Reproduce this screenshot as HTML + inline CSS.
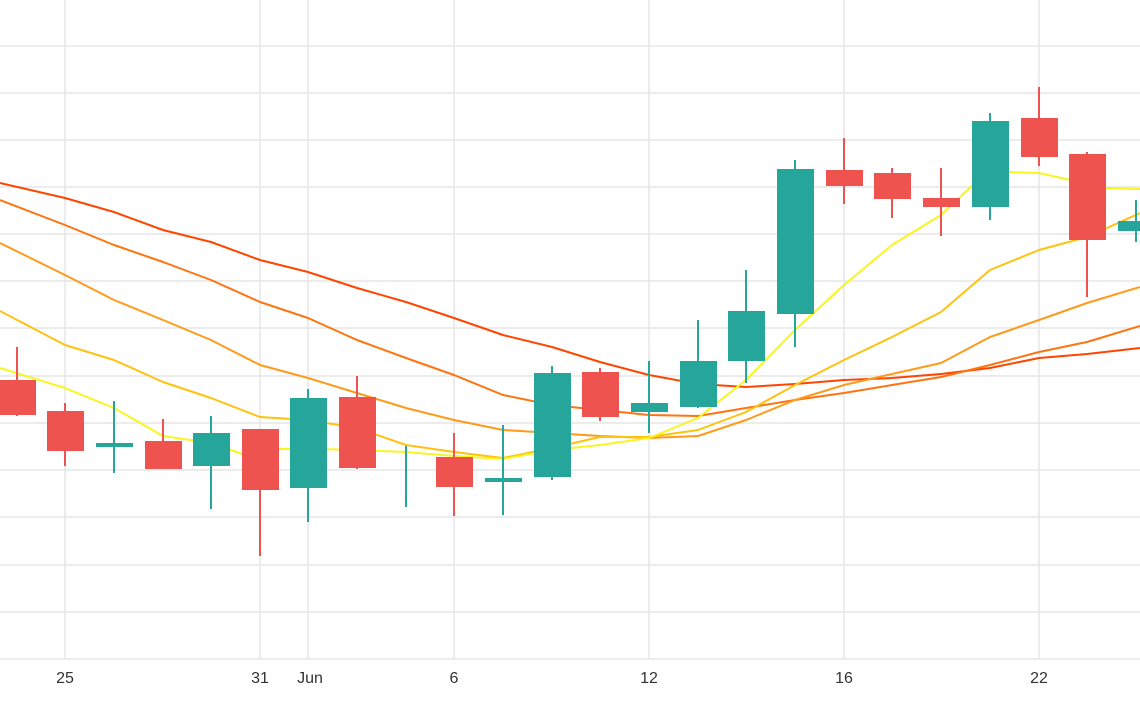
<!DOCTYPE html>
<html><head><meta charset="utf-8"><style>
html,body{margin:0;padding:0;background:#fff;}
svg{display:block;font-family:"Liberation Sans",sans-serif;}
</style></head><body>
<svg width="1140" height="710" viewBox="0 0 1140 710" xmlns="http://www.w3.org/2000/svg">
<g stroke="#e6e6e6" stroke-width="1.5">
<line x1="0" y1="46" x2="1140" y2="46"/><line x1="0" y1="93" x2="1140" y2="93"/>
<line x1="0" y1="140" x2="1140" y2="140"/><line x1="0" y1="187" x2="1140" y2="187"/>
<line x1="0" y1="234" x2="1140" y2="234"/><line x1="0" y1="281" x2="1140" y2="281"/>
<line x1="0" y1="328" x2="1140" y2="328"/><line x1="0" y1="376" x2="1140" y2="376"/>
<line x1="0" y1="423" x2="1140" y2="423"/><line x1="0" y1="470" x2="1140" y2="470"/>
<line x1="0" y1="517" x2="1140" y2="517"/><line x1="0" y1="565" x2="1140" y2="565"/>
<line x1="0" y1="612" x2="1140" y2="612"/><line x1="0" y1="659" x2="1140" y2="659"/>
<line x1="65" y1="0" x2="65" y2="659"/><line x1="260" y1="0" x2="260" y2="659"/>
<line x1="308" y1="0" x2="308" y2="659"/><line x1="454" y1="0" x2="454" y2="659"/>
<line x1="649" y1="0" x2="649" y2="659"/><line x1="844" y1="0" x2="844" y2="659"/>
<line x1="1039" y1="0" x2="1039" y2="659"/>
</g>
<g fill="none" stroke-width="2" stroke-linejoin="round">
<polyline stroke="#ff4500" points="0,183 65,198 114,212 163,230 211,242 260,260 308,272 357,288 406,302 454,318 503,335 552,347 600,362 649,375 698,384 746,387 795,384 844,380 892,378 941,374 990,368 1039,358 1087,354 1140,348"/>
<polyline stroke="#ff7410" points="0,200 65,225 114,245 163,262 211,280 260,302 308,318 357,340 406,358 454,375 503,395 552,405 600,410 649,415 698,416 746,408 795,400 844,393 892,385 941,377 990,365 1039,352 1087,342 1140,326"/>
<polyline stroke="#ff9a1a" points="0,243 65,275 114,300 163,320 211,340 260,365 308,378 357,393 406,408 454,420 503,430 552,433 600,436 649,438 698,436 746,420 795,400 844,385 892,374 941,363 990,337 1039,320 1087,303 1140,287"/>
<polyline stroke="#ffc20e" points="0,311 65,345 114,360 163,382 211,398 260,417 308,420 357,428 406,445 454,452 503,458 552,448 600,437 649,437 698,430 746,412 795,385 844,360 892,337 941,312 990,270 1039,250 1087,237 1140,213"/>
<polyline stroke="#f8f520" points="0,368 65,388 114,408 163,436 211,443 245,455 280,449 320,449 357,450 406,452 454,456 503,459 552,450 600,445 649,438 698,418 746,380 795,330 844,285 892,245 941,215 975,183 1010,172 1039,173 1070,180 1100,188 1140,189"/>
</g>
<g stroke-width="2">
<g stroke="#ef5350" fill="#ef5350">
<line x1="17" y1="347" x2="17" y2="416"/><rect x="0" y="381" width="35" height="33"/>
<line x1="65" y1="403" x2="65" y2="466"/><rect x="48" y="412" width="35" height="38"/>
<line x1="163" y1="419" x2="163" y2="469"/><rect x="146" y="442" width="35" height="26"/>
<line x1="260" y1="429" x2="260" y2="556"/><rect x="243" y="430" width="35" height="59"/>
<line x1="357" y1="376" x2="357" y2="469"/><rect x="340" y="398" width="35" height="69"/>
<line x1="454" y1="433" x2="454" y2="516"/><rect x="437" y="458" width="35" height="28"/>
<line x1="600" y1="368" x2="600" y2="421"/><rect x="583" y="373" width="35" height="43"/>
<line x1="844" y1="138" x2="844" y2="204"/><rect x="827" y="171" width="35" height="14"/>
<line x1="892" y1="168" x2="892" y2="218"/><rect x="875" y="174" width="35" height="24"/>
<line x1="941" y1="168" x2="941" y2="236"/><rect x="924" y="199" width="35" height="7"/>
<line x1="1039" y1="87" x2="1039" y2="166"/><rect x="1022" y="119" width="35" height="37"/>
<line x1="1087" y1="152" x2="1087" y2="297"/><rect x="1070" y="155" width="35" height="84"/>
</g>
<g stroke="#26a69a" fill="#26a69a">
<line x1="114" y1="401" x2="114" y2="473"/><rect x="97" y="444" width="35" height="2"/>
<line x1="211" y1="416" x2="211" y2="509"/><rect x="194" y="434" width="35" height="31"/>
<line x1="308" y1="389" x2="308" y2="522"/><rect x="291" y="399" width="35" height="88"/>
<line x1="406" y1="446" x2="406" y2="507"/>
<line x1="503" y1="425" x2="503" y2="515"/><rect x="486" y="479" width="35" height="2"/>
<line x1="552" y1="366" x2="552" y2="480"/><rect x="535" y="374" width="35" height="102"/>
<line x1="649" y1="361" x2="649" y2="433"/><rect x="632" y="404" width="35" height="7"/>
<line x1="698" y1="320" x2="698" y2="408"/><rect x="681" y="362" width="35" height="44"/>
<line x1="746" y1="270" x2="746" y2="383"/><rect x="729" y="312" width="35" height="48"/>
<line x1="795" y1="160" x2="795" y2="347"/><rect x="778" y="170" width="35" height="143"/>
<line x1="990" y1="113" x2="990" y2="220"/><rect x="973" y="122" width="35" height="84"/>
<line x1="1136" y1="200" x2="1136" y2="242"/><rect x="1119" y="222" width="35" height="8"/>
</g>
</g>
<g font-size="16" fill="#333" text-anchor="middle">
<text x="65" y="683">25</text><text x="260" y="683">31</text><text x="310" y="683">Jun</text>
<text x="454" y="683">6</text><text x="649" y="683">12</text><text x="844" y="683">16</text><text x="1039" y="683">22</text>
</g>
</svg>
</body></html>
